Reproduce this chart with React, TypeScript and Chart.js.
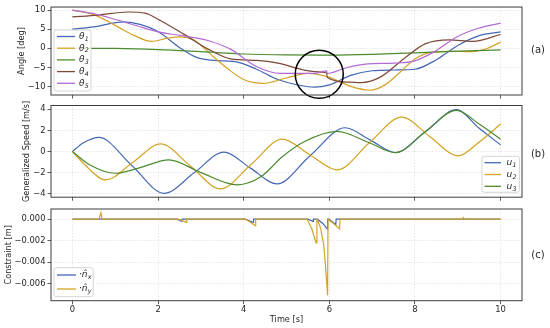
import React, { useEffect, useRef } from 'react';
import { Chart, registerables } from 'chart.js';

Chart.register(...registerables);

// ---------- ticks & labels ----------
const timeTicks = [0, 2, 4, 6, 8, 10];
const angleTicks = [-10, -5, 0, 5, 10];
const speedTicks = [-4, -2, 0, 2, 4];
const constraintTicks = [-0.006, -0.004, -0.002, 0];

const thetaLabels = ['θ1', 'θ2', 'θ3', 'θ4', 'θ5'];
const speedLabels = ['u1', 'u2', 'u3'];
const constraintLabels = ['·n̂x', '·n̂y'];
const panelTags = ['(a)', '(b)', '(c)'];

// ---------- panel (a): angles [deg] ----------
const theta1T = [0, 0.5, 1.2, 1.6, 2.0, 2.5, 2.9, 3.3, 3.8, 4.3, 4.8, 5.3, 5.65, 6.0, 6.5, 7.0, 7.5, 8.0, 8.5, 9.0, 9.5, 10];
const theta1V = [5.0, 5.6, 6.9, 6.2, 4.4, 0.2, -2.4, -3.2, -3.5, -5.5, -8.2, -9.7, -10.2, -9.6, -7.1, -5.9, -5.7, -5.5, -3.0, 0.7, 3.3, 4.3];

const theta2T = [0, 0.5, 1.0, 1.45, 1.85, 2.2, 2.5, 2.8, 3.0, 3.3, 3.6, 4.0, 4.45, 5.0, 5.5, 6.0, 6.5, 6.95, 7.3, 7.65, 8.0, 8.4, 8.8, 9.3, 9.65, 10];
const theta2V = [10, 8.8, 6.0, 3.3, 1.8, 2.6, 3.0, 2.4, 0.8, -2.3, -5.1, -8.2, -9.2, -7.8, -6.6, -7.6, -10.0, -11.0, -9.6, -6.3, -2.8, -1.0, -0.8, -0.9, -0.2, 1.6];

const theta3T = [0, 1, 2, 3, 4, 5, 6, 7, 8, 9, 10];
const theta3V = [0, -0.05, -0.35, -0.9, -1.5, -1.75, -1.8, -1.6, -1.2, -0.75, -0.45];

const theta4T = [0, 0.6, 1.3, 1.7, 2.0, 2.6, 3.15, 3.7, 4.3, 4.8, 5.4, 5.65, 5.94, 5.95, 6.45, 6.75, 7.2, 7.8, 8.25, 8.8, 9.35, 10];
const theta4V = [8.2, 8.7, 9.5, 9.2, 7.6, 3.7, -0.1, -2.8, -3.2, -3.9, -5.7, -6.1, -6.5, -7.6, -8.9, -9.0, -7.5, -2.2, 1.2, 2.2, 1.8, 3.6];

const theta5T = [0, 0.45, 1.05, 1.5, 2.0, 2.55, 3.2, 3.7, 4.3, 4.85, 5.45, 5.65, 5.94, 5.95, 6.4, 6.9, 7.5, 8.0, 8.45, 9.0, 9.5, 10];
const theta5V = [10, 9.2, 7.4, 5.9, 4.3, 3.3, 1.9, -0.3, -4.8, -6.6, -6.6, -6.6, -5.95, -6.6, -5.1, -4.1, -3.9, -3.3, -0.9, 3.1, 5.3, 6.6];

const circleT = [5.765];
const circleV = [-6.8];

// ---------- panel (b): generalized speeds [m/s] ----------
const u1T = [0, 0.25, 0.62, 1.38, 2.14, 2.85, 3.54, 4.15, 4.78, 5.55, 6.37, 6.95, 7.54, 8.25, 8.97, 9.5, 10];
const u1V = [0, 0.8, 1.33, -1.3, -3.96, -2.0, -0.05, -1.55, -3.07, -0.4, 2.25, 1.1, -0.1, 1.9, 3.96, 2.2, 0.63];

const u2T = [0, 0.3, 0.78, 1.42, 2.06, 2.76, 3.46, 4.18, 4.9, 5.54, 6.18, 6.93, 7.69, 8.35, 9.01, 9.5, 10];
const u2V = [0, -1.3, -2.69, -1.0, 0.73, -1.4, -3.54, -1.2, 1.17, -0.3, -1.74, 0.8, 3.26, 1.4, -0.41, 0.9, 2.6];

const u3T = [0, 0.4, 1.01, 1.6, 2.25, 3.0, 3.85, 4.4, 4.9, 5.4, 6.18, 6.9, 7.54, 8.25, 8.97, 9.5, 10];
const u3V = [0, -1.25, -2.06, -1.5, -0.79, -2.0, -3.16, -2.4, -0.5, 0.9, 1.9, 0.9, -0.1, 1.9, 3.9, 2.6, 1.17];

// ---------- panel (c): constraint [m] ----------
const nxT = [0, 2.45, 2.55, 2.56, 4.03, 4.22, 4.23, 5.5, 5.62, 5.63, 5.72, 5.85, 5.95, 5.96, 5.99, 6.15, 6.16, 10];
const nxV = [0, 0, -0.0002, 0, 0, -0.0003, 0, 0, -0.0002, 0, 0, -0.0004, -0.0009, 0, 0, -0.0005, 0, 0];

const nyT = [0, 0.62, 0.665, 0.69, 2.48, 2.66, 2.67, 4.05, 4.27, 4.28, 5.48, 5.52, 5.59, 5.66, 5.69, 5.71, 5.72, 5.80, 5.87, 5.91, 5.96, 5.97, 5.99, 6.1, 6.24, 6.25, 9.1, 9.13, 9.15, 10];
const nyV = [0, 0, 0.0006, 0, 0, -0.0003, 0, 0, -0.0006, 0, 0, -0.0003, -0.0009, -0.0018, -0.0022, 0, 0, -0.0009, -0.0024, -0.0043, -0.0071, 0, 0, -0.0004, -0.0009, 0, 0, 0.00015, 0, 0];

// ---------- styles ----------
const FONT = "'DejaVu Sans', sans-serif";
const TXT = '#262626';
const GRID = 'rgba(0,0,0,0.12)';
const TICKC = '#333333';
const BLUE = '#4467b4';
const GOLD = '#d3a323';
const GREEN = '#4c8b2f';
const BROWN = '#7d4838';
const PURPLE = '#b46ad2';

const thetaColors = [BLUE, GOLD, GREEN, BROWN, PURPLE];
const speedColors = [BLUE, GOLD, GREEN];
const constraintColors = [BLUE, GOLD];

type XY = { x: number; y: number };
const pts = (t: number[], v: number[]): XY[] => t.map((x, i) => ({ x, y: v[i] }));

const fmtTick = (digits: number) => (v: any) => {
  const n = Number(v);
  const s = Math.abs(n).toFixed(digits);
  return (n < -1e-12 ? '\u2212' : '') + s;
};

type LegendLayout = { box: number[]; rows: number[]; x1: number; x2: number; tx: number };

function makeMplPlugin(lg: LegendLayout) {
  return {
    id: 'mpl',
    afterDraw(chart: any) {
      const { ctx, chartArea: a } = chart;
      ctx.save();
      ctx.strokeStyle = '#3c3c3c';
      ctx.lineWidth = 1;
      ctx.strokeRect(a.left, a.top, a.right - a.left, a.bottom - a.top);
      const [bx, by, bw, bh] = lg.box;
      ctx.beginPath();
      if (ctx.roundRect) ctx.roundRect(bx, by, bw, bh, 2.5);
      else ctx.rect(bx, by, bw, bh);
      ctx.fillStyle = 'rgba(255,255,255,0.85)';
      ctx.fill();
      ctx.strokeStyle = '#cccccc';
      ctx.lineWidth = 0.8;
      ctx.stroke();
      const items = chart.data.datasets.filter((d: any) => d.label);
      items.forEach((ds: any, i: number) => {
        const y = lg.rows[i];
        ctx.strokeStyle = ds.borderColor;
        ctx.lineWidth = 1.3;
        ctx.beginPath();
        ctx.moveTo(lg.x1, y);
        ctx.lineTo(lg.x2, y);
        ctx.stroke();
        const label: string = ds.label;
        const base = label.slice(0, -1);
        const sub = label.slice(-1);
        ctx.fillStyle = TXT;
        ctx.textAlign = 'left';
        ctx.textBaseline = 'middle';
        ctx.font = `italic 9px ${FONT}`;
        ctx.fillText(base, lg.tx, y);
        const w = ctx.measureText(base).width;
        ctx.font = `italic 6.3px ${FONT}`;
        ctx.fillText(sub, lg.tx + w + 0.3, y + 2.6);
      });
      ctx.restore();
    },
  };
}

function makeX(showLabels: boolean, height: number) {
  return {
    type: 'linear',
    min: -0.5,
    max: 10.5,
    afterBuildTicks: (s: any) => {
      s.ticks = timeTicks.map((v) => ({ value: v }));
    },
    afterFit: (s: any) => {
      s.height = height;
    },
    grid: { color: GRID, lineWidth: 0.8, tickLength: 3.5, tickColor: TICKC, tickWidth: 0.8, tickBorderDash: [] },
    border: { display: false, dash: [1.5, 1.5] },
    ticks: {
      display: showLabels,
      padding: 1,
      color: TXT,
      font: { family: FONT, size: 8.4 },
      maxRotation: 0,
      autoSkip: false,
      callback: fmtTick(0),
    },
    title: {
      display: showLabels,
      text: 'Time [s]',
      color: TXT,
      font: { family: FONT, size: 8.2 },
      padding: { top: 0, bottom: 3.1 },
    },
  };
}

function makeY(min: number, max: number, ticks: number[], digits: number, title: string, titlePad: number) {
  return {
    type: 'linear',
    min,
    max,
    afterBuildTicks: (s: any) => {
      s.ticks = ticks.map((v) => ({ value: v }));
    },
    afterFit: (s: any) => {
      s.width = 51;
    },
    grid: { color: GRID, lineWidth: 0.8, tickLength: 3.5, tickColor: TICKC, tickWidth: 0.8, tickBorderDash: [] },
    border: { display: false, dash: [1.5, 1.5] },
    ticks: {
      padding: 2,
      color: TXT,
      font: { family: FONT, size: 8.4 },
      autoSkip: false,
      callback: fmtTick(digits),
    },
    title: {
      display: true,
      text: title,
      color: TXT,
      font: { family: FONT, size: 8.2 },
      padding: { top: titlePad, bottom: 0 },
    },
  };
}

function lineSet(label: string, t: number[], v: number[], color: string, order: number, smooth: boolean) {
  return {
    label,
    data: pts(t, v),
    borderColor: color,
    backgroundColor: color,
    borderWidth: 1.2,
    pointRadius: 0,
    pointHoverRadius: 0,
    fill: false,
    cubicInterpolationMode: smooth ? 'monotone' : 'default',
    tension: 0,
    order,
  };
}

function config(datasets: any[], x: any, y: any, padding: any, lg: LegendLayout) {
  return {
    type: 'line',
    data: { datasets },
    options: {
      animation: false,
      responsive: false,
      devicePixelRatio: 1,
      events: [],
      layout: { padding, autoPadding: false },
      scales: { x, y },
      plugins: { legend: { display: false }, tooltip: { enabled: false } },
    },
    plugins: [makeMplPlugin(lg)],
  } as any;
}

const thetaSeries = [
  [theta1T, theta1V],
  [theta2T, theta2V],
  [theta3T, theta3V],
  [theta4T, theta4V],
  [theta5T, theta5V],
];
const speedSeries = [
  [u1T, u1V],
  [u2T, u2V],
  [u3T, u3V],
];
const constraintSeries = [
  [nxT, nxV],
  [nyT, nyV],
];

const tagY = [49, 152.5, 254];

export default function App() {
  const refA = useRef<HTMLCanvasElement>(null);
  const refB = useRef<HTMLCanvasElement>(null);
  const refC = useRef<HTMLCanvasElement>(null);

  useEffect(() => {
    const dsA: any[] = thetaSeries.map(([t, v], i) => lineSet(thetaLabels[i], t, v, thetaColors[i], 20 - i, true));
    dsA.push({
      label: '',
      data: pts(circleT, circleV),
      showLine: false,
      pointRadius: 24,
      pointHoverRadius: 24,
      pointBorderColor: '#000000',
      pointBackgroundColor: 'rgba(0,0,0,0)',
      pointBorderWidth: 1.5,
      borderColor: '#000000',
      clip: false,
      order: 0,
    });
    const dsB = speedSeries.map(([t, v], i) => lineSet(speedLabels[i], t, v, speedColors[i], 20 - i, true));
    const dsC = constraintSeries.map(([t, v], i) => lineSet(constraintLabels[i], t, v, constraintColors[i], 20 - i, false));

    const charts = [
      new Chart(
        refA.current!,
        config(dsA, makeX(false, 5), makeY(-12.25, 10.8, angleTicks, 0, 'Angle [deg]', 16.6),
          { top: 3.5, bottom: 228, left: 0, right: 28 },
          { box: [54, 30, 37, 61], rows: [36.5, 48.2, 59.9, 71.6, 83.3], x1: 57, x2: 75, tx: 79 })
      ),
      new Chart(
        refB.current!,
        config(dsB, makeX(false, 6), makeY(-4.33, 4.36, speedTicks, 0, 'Generalized Speed [m/s]', 21.6),
          { top: 105.5, bottom: 124.8, left: 0, right: 28 },
          { box: [482, 156.3, 37.5, 36], rows: [162.7, 174.5, 186.3], x1: 484.5, x2: 501, tx: 506.5 })
      ),
      new Chart(
        refC.current!,
        config(dsC, makeX(true, 27.3), makeY(-0.0076, 0.00095, constraintTicks, 3, 'Constraint [m]', 3.8),
          { top: 209, bottom: 0, left: 0, right: 28 },
          { box: [54, 267.7, 39.3, 29], rows: [275, 289], x1: 57, x2: 76, tx: 79 })
      ),
    ];
    return () => charts.forEach((c) => c.destroy());
  }, []);

  const cs: React.CSSProperties = { position: 'absolute', left: 0, top: 0, width: 550, height: 328 };
  return (
    <div style={{ position: 'fixed', left: 0, top: 0, width: 550, height: 328, background: '#ffffff', overflow: 'hidden' }}>
      <canvas ref={refA} width={550} height={328} style={cs} />
      <canvas ref={refB} width={550} height={328} style={cs} />
      <canvas ref={refC} width={550} height={328} style={cs} />
      {panelTags.map((t, i) => (
        <div
          key={t}
          style={{
            position: 'absolute',
            left: 538,
            top: tagY[i],
            transform: 'translate(-50%, -50%)',
            fontFamily: FONT,
            fontSize: 10,
            color: TXT,
            whiteSpace: 'nowrap',
          }}
        >
          {t}
        </div>
      ))}
    </div>
  );
}
